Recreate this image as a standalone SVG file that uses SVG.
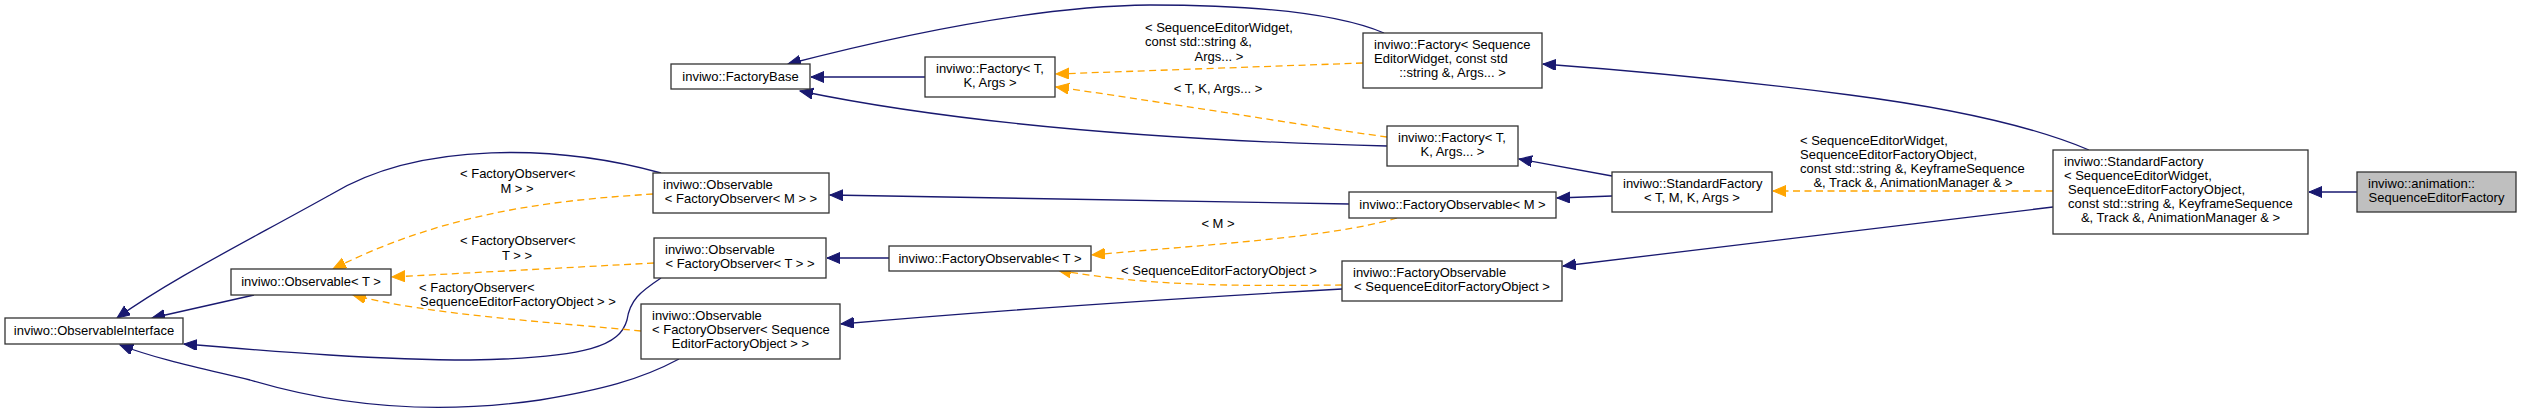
<svg xmlns="http://www.w3.org/2000/svg" width="2521" height="410" viewBox="0 0 2521 410">
<style>
text{font-family:"Liberation Sans",Arial,sans-serif;font-size:13px;fill:#000}
.n rect{fill:#fff;stroke:#333;stroke-width:1.3}
.n rect.g{fill:#bfbfbf}
.m{text-anchor:middle}
.b{fill:none;stroke:#191970;stroke-width:1.3}
.o{fill:none;stroke:#ffa500;stroke-width:1.3;stroke-dasharray:7,4.5}
</style>
<defs>
<marker id="ab" markerUnits="userSpaceOnUse" markerWidth="15" markerHeight="12" refX="13" refY="5.5" orient="auto" viewBox="0 0 15 12"><path d="M0,0 L13,5.5 L0,11 z" fill="#191970" stroke="#191970"/></marker>
<marker id="ao" markerUnits="userSpaceOnUse" markerWidth="15" markerHeight="12" refX="13" refY="5.5" orient="auto" viewBox="0 0 15 12"><path d="M0,0 L13,5.5 L0,11 z" fill="#ffa500" stroke="#ffa500"/></marker>
</defs>
<rect width="2521" height="410" fill="#fff"/>
<g id="edges">
<path class="b" marker-end="url(#ab)" d="M2357,192 L2309,192"/>
<path class="b" marker-end="url(#ab)" d="M2089,150 C2030,125 1950,108 1850,95 C1750,82 1650,72 1543,64"/>
<path class="b" marker-end="url(#ab)" d="M2053,207 L1563,266"/>
<path class="b" marker-end="url(#ab)" d="M1384,33 C1330,10 1230,5 1150,5 C1040,6 900,35 788,64"/>
<path class="b" marker-end="url(#ab)" d="M1387,146 C1150,140 950,122 800,91"/>
<path class="b" marker-end="url(#ab)" d="M925,77 L811,77"/>
<path class="b" marker-end="url(#ab)" d="M1612,176 L1519,159"/>
<path class="b" marker-end="url(#ab)" d="M1612,196 L1557,198"/>
<path class="b" marker-end="url(#ab)" d="M1349,204 L830,195"/>
<path class="b" marker-end="url(#ab)" d="M889,258 L827,258"/>
<path class="b" marker-end="url(#ab)" d="M1342,289 C1150,300 1000,310 841,324"/>
<path class="b" marker-end="url(#ab)" d="M661,173 C560,145 420,140 330,195 C240,245 170,280 117,318"/>
<path class="b" marker-end="url(#ab)" d="M254,295 L152,318"/>
<path class="b" marker-end="url(#ab)" d="M661,278 C640,292 630,300 627,320 C620,345 590,358 470,360 C380,360 280,352 184,344"/>
<path class="b" marker-end="url(#ab)" d="M679,359 C640,380 600,390 540,400 C450,413 350,410 250,380 C200,368 160,360 120,345"/>
<path class="o" marker-end="url(#ao)" d="M1363,63 L1056,74"/>
<path class="o" marker-end="url(#ao)" d="M1387,137 C1300,125 1150,100 1056,87"/>
<path class="o" marker-end="url(#ao)" d="M2053,191 L1773,191"/>
<path class="o" marker-end="url(#ao)" d="M1397,218 C1330,238 1200,245 1092,255"/>
<path class="o" marker-end="url(#ao)" d="M1342,285 C1250,286 1150,287 1058,270"/>
<path class="o" marker-end="url(#ao)" d="M653,194 C560,200 450,210 333,269"/>
<path class="o" marker-end="url(#ao)" d="M654,263 L392,277"/>
<path class="o" marker-end="url(#ao)" d="M641,331 C550,322 430,315 353,295"/>
<text x="1145" y="32">&lt; SequenceEditorWidget,</text>
<text x="1145" y="46">const std::string &amp;,</text>
<text x="1219" y="61" class="m">Args... &gt;</text>
<text x="1218" y="93" class="m">&lt; T, K, Args... &gt;</text>
<text x="1800" y="145">&lt; SequenceEditorWidget,</text>
<text x="1800" y="159">SequenceEditorFactoryObject,</text>
<text x="1800" y="173">const std::string &amp;, KeyframeSequence</text>
<text x="1913" y="187" class="m">&amp;, Track &amp;, AnimationManager &amp; &gt;</text>
<text x="1218" y="228" class="m">&lt; M &gt;</text>
<text x="1219" y="275" class="m">&lt; SequenceEditorFactoryObject &gt;</text>
<text x="460" y="178">&lt; FactoryObserver&lt;</text>
<text x="517" y="193" class="m">M &gt; &gt;</text>
<text x="460" y="245">&lt; FactoryObserver&lt;</text>
<text x="517" y="260" class="m">T &gt; &gt;</text>
<text x="419" y="292">&lt; FactoryObserver&lt;</text>
<text x="518" y="306" class="m">SequenceEditorFactoryObject &gt; &gt;</text>
</g>
<g id="n_observableinterface" class="n"><rect x="5" y="318" width="178" height="26"/><text x="94" y="335" class="m">inviwo::ObservableInterface</text></g>
<g id="n_observable_t" class="n"><rect x="231" y="269" width="160" height="26"/><text x="311" y="286" class="m">inviwo::Observable&lt; T &gt;</text></g>
<g id="n_factorybase" class="n"><rect x="671" y="64" width="139" height="25"/><text x="740.5" y="81" class="m">inviwo::FactoryBase</text></g>
<g id="n_factory_tkargs" class="n"><rect x="925" y="57" width="130" height="40"/><text x="936" y="73">inviwo::Factory&lt; T,</text><text x="990" y="87" class="m">K, Args &gt;</text></g>
<g id="n_observable_fo_m" class="n"><rect x="653" y="173" width="176" height="40"/><text x="663" y="189">inviwo::Observable</text><text x="741" y="203" class="m">&lt; FactoryObserver&lt; M &gt; &gt;</text></g>
<g id="n_observable_fo_t" class="n"><rect x="654" y="238" width="172" height="40"/><text x="665" y="254">inviwo::Observable</text><text x="740" y="268" class="m">&lt; FactoryObserver&lt; T &gt; &gt;</text></g>
<g id="n_observable_fo_seq" class="n"><rect x="641" y="304" width="199" height="55"/><text x="652" y="320">inviwo::Observable</text><text x="652" y="334">&lt; FactoryObserver&lt; Sequence</text><text x="740.5" y="348" class="m">EditorFactoryObject &gt; &gt;</text></g>
<g id="n_factoryobservable_t" class="n"><rect x="889" y="246" width="202" height="25"/><text x="990" y="263" class="m">inviwo::FactoryObservable&lt; T &gt;</text></g>
<g id="n_factory_sew" class="n"><rect x="1363" y="33" width="179" height="55"/><text x="1374" y="49">inviwo::Factory&lt; Sequence</text><text x="1374" y="63">EditorWidget, const std</text><text x="1452.5" y="77" class="m">::string &amp;, Args... &gt;</text></g>
<g id="n_factory_tkargsdots" class="n"><rect x="1387" y="126" width="131" height="40"/><text x="1398" y="142">inviwo::Factory&lt; T,</text><text x="1452.5" y="156" class="m">K, Args... &gt;</text></g>
<g id="n_factoryobservable_m" class="n"><rect x="1349" y="192" width="207" height="26"/><text x="1452.5" y="209" class="m">inviwo::FactoryObservable&lt; M &gt;</text></g>
<g id="n_standardfactory_tmkargs" class="n"><rect x="1612" y="172" width="160" height="40"/><text x="1623" y="188">inviwo::StandardFactory</text><text x="1692" y="202" class="m">&lt; T, M, K, Args &gt;</text></g>
<g id="n_factoryobservable_sefo" class="n"><rect x="1342" y="261" width="220" height="40"/><text x="1353" y="277">inviwo::FactoryObservable</text><text x="1452" y="291" class="m">&lt; SequenceEditorFactoryObject &gt;</text></g>
<g id="n_standardfactory_big" class="n"><rect x="2053" y="150" width="255" height="84"/><text x="2064" y="166">inviwo::StandardFactory</text><text x="2064" y="180">&lt; SequenceEditorWidget,</text><text x="2068" y="194">SequenceEditorFactoryObject,</text><text x="2068" y="208">const std::string &amp;, KeyframeSequence</text><text x="2180.5" y="222" class="m">&amp;, Track &amp;, AnimationManager &amp; &gt;</text></g>
<g id="n_sequenceeditorfactory" class="n"><rect class="g" x="2357" y="172" width="159" height="40"/><text x="2368" y="188">inviwo::animation::</text><text x="2436.5" y="202" class="m">SequenceEditorFactory</text></g>
</svg>
